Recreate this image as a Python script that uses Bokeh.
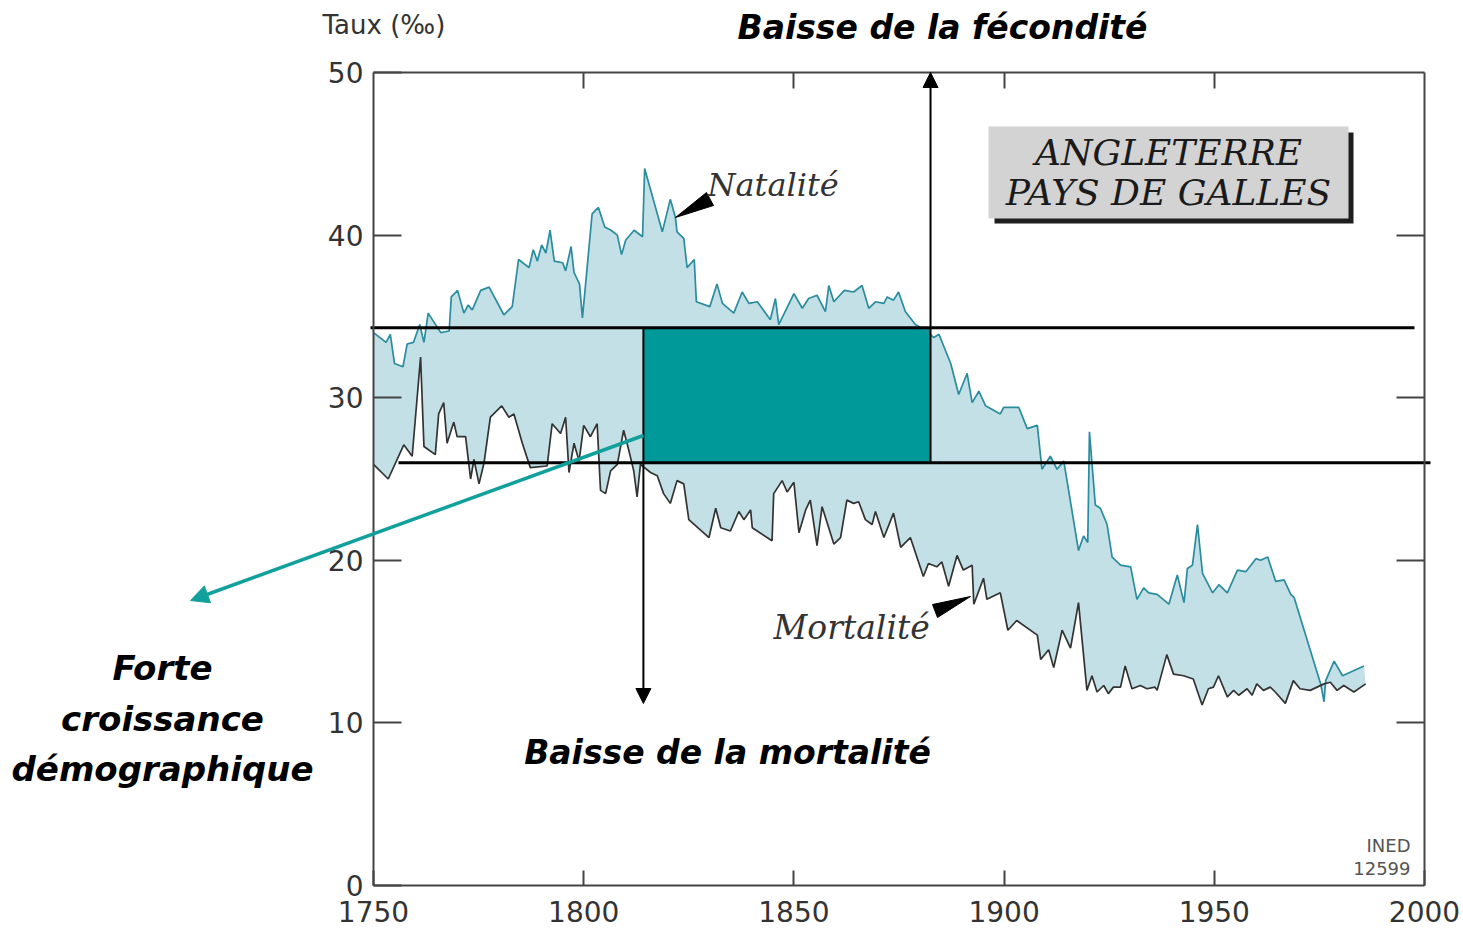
from bokeh.plotting import figure
from bokeh.models import Range1d, LinearAxis, FixedTicker, Label, Arrow, NormalHead
from bokeh.embed import file_html
from bokeh.resources import INLINE

# ---------------- data ----------------
birth_years = [1750, 1753, 1754, 1755, 1757, 1758, 1759.5, 1761, 1762, 1763, 1765, 1766, 1768, 1768.5,
               1770, 1771.5, 1772.5, 1773.5, 1775.5, 1777.5, 1781, 1783, 1784.5, 1787, 1788, 1789, 1790,
               1791, 1792, 1793, 1795, 1795.7, 1797, 1797.7, 1799, 1799.7, 1802, 1803.5, 1805, 1806.5,
               1808, 1809, 1810, 1812, 1814, 1814.5, 1818.7, 1820.6, 1821.8, 1822.2, 1823.8, 1824.6,
               1826.3, 1826.8, 1830, 1831.7, 1833, 1835.7, 1837.7, 1839.3, 1841.3, 1844.4, 1845.6,
               1846.4, 1850, 1852, 1853.5, 1855.5, 1857.5, 1858.3, 1859.5, 1862, 1864.2, 1866.2,
               1867.8, 1869.4, 1871.4, 1872.2, 1873.7, 1874.9, 1876.5, 1878.9, 1881, 1883.3, 1884.5,
               1887.3, 1889.2, 1891.2, 1892.4, 1894, 1895.6, 1899.1, 1899.9, 1903.5, 1905.5, 1907.9,
               1909, 1911, 1912.6, 1914.2, 1917.7, 1918.9, 1919.9, 1920.3, 1921.7, 1922.9, 1924.5,
               1925.7, 1927.7, 1930.1, 1931.6, 1933.2, 1934.4, 1936.4, 1939.2, 1941.2, 1942.8, 1943.6,
               1944.8, 1946, 1947.2, 1949.6, 1951.1, 1953.1, 1955.5, 1957.5, 1959.9, 1961, 1962.7,
               1964.6, 1966.6, 1968.2, 1969, 1975.3, 1976.1, 1976.5, 1978.5, 1980.5, 1985.6]
birth_rates = [34.0, 33.4, 33.9, 32.1, 31.9, 33.3, 33.4, 34.5, 33.4, 35.2, 34.4, 34.0, 34.1, 36.2,
               36.6, 35.2, 35.7, 35.4, 36.6, 36.8, 35.1, 35.6, 38.5, 38.0, 39.1, 38.4, 39.4,
               38.9, 40.3, 38.4, 38.3, 37.8, 39.3, 37.7, 37.0, 34.9, 41.3, 41.7, 40.5, 40.3,
               40.0, 38.8, 39.7, 40.3, 39.9, 44.1, 40.2, 42.2, 41.1, 40.2, 39.8, 38.0,
               38.5, 35.9, 35.6, 37.0, 35.8, 35.2, 36.5, 35.8, 35.9, 34.8, 36.1,
               34.5, 36.4, 35.5, 36.1, 36.3, 35.3, 36.9, 35.9, 36.6, 36.5, 36.9,
               35.5, 35.9, 35.8, 36.2, 36.0, 36.5, 35.3, 34.5, 34.2, 33.7, 33.9,
               32.1, 30.2, 31.5, 29.7, 30.4, 29.5, 29.0, 29.4, 29.4, 28.1, 28.3,
               25.6, 26.4, 25.6, 26.1, 20.6, 21.5, 21.1, 27.9, 23.4, 23.2, 22.2,
               20.2, 19.7, 19.6, 17.6, 18.3, 18.0, 17.9, 17.3, 19.1, 17.4, 19.5,
               19.7, 22.2, 19.2, 18.0, 18.5, 18.0, 19.4, 19.3, 20.1, 20.0, 20.2,
               18.7, 18.8, 17.9, 17.7, 12.4, 11.3, 12.6, 13.8, 12.9, 13.5]

death_years = [1750, 1753.5, 1757.2, 1759.2, 1761.2, 1762, 1764.7, 1765.5, 1766.7, 1767.5, 1769.1,
               1769.9, 1771.9, 1773.1, 1773.9, 1775.1, 1776.3, 1777.8, 1780.5, 1782.2, 1783.4,
               1785.4, 1787.3, 1791.3, 1792.5, 1794.5, 1795.7, 1796.5, 1797.7, 1798.9, 1800,
               1801.6, 1803.2, 1804, 1805.2, 1806.4, 1808, 1809.5, 1810.7, 1811.9, 1812.7, 1813.5,
               1815.9, 1817.5, 1819, 1820.6, 1822.2, 1823.8, 1825, 1829.8, 1831.4, 1832.6, 1834.9,
               1836.9, 1838.1, 1839.7, 1840.1, 1844.8, 1845.2, 1847.2, 1848.4, 1850, 1851.2,
               1852.8, 1853.9, 1855.5, 1856.7, 1859.5, 1861.1, 1862.6, 1864.2, 1865.4, 1867,
               1868.6, 1869.4, 1871.4, 1873.7, 1875.4, 1877.7, 1880.8, 1882, 1884, 1885.2, 1886.8,
               1888.8, 1890.3, 1892.4, 1892.8, 1895.1, 1895.9, 1899.1, 1900.9, 1903, 1907.9,
               1908.7, 1910.6, 1911.8, 1913.8, 1915.8, 1917.7, 1919.7, 1920.9, 1922.1, 1923.7,
               1924.8, 1926, 1927.7, 1928.8, 1930.4, 1932.4, 1934, 1935.9, 1936.4, 1938.7, 1940.3,
               1942.7, 1945, 1947.1, 1948.6, 1949.8, 1951, 1953.1, 1954.6, 1955.8, 1957.8, 1959,
               1960.1, 1961.7, 1963.3, 1964.5, 1966.9, 1968.8, 1970.4, 1972.8, 1976.1, 1977.6,
               1979.2, 1980.8, 1983.2, 1986]
death_rates = [25.9, 25.0, 27.1, 26.4, 32.5, 27.0, 26.5, 29.0, 29.7, 27.2, 28.5,
               27.6, 27.6, 25.0, 26.2, 24.7, 26.0, 28.8, 29.5, 28.8, 29.0,
               27.2, 25.7, 25.8, 28.4, 27.8, 28.8, 25.4, 27.2, 26.1, 28.3,
               27.6, 28.4, 24.3, 24.1, 25.5, 25.9, 28.0, 26.8, 25.5, 23.9, 25.9,
               25.4, 25.2, 24.1, 23.5, 24.9, 24.7, 22.5, 21.4, 23.2, 22.0, 21.8,
               23.0, 22.5, 23.1, 22.0, 21.2, 24.1, 24.9, 24.2, 24.8, 21.7,
               23.1, 23.7, 20.9, 23.3, 21.0, 21.4, 23.7, 23.5, 23.6, 22.5,
               22.2, 23.0, 21.4, 22.9, 20.8, 21.4, 19.0, 19.8, 19.6, 19.9, 18.4,
               20.3, 19.4, 19.7, 17.3, 18.9, 17.6, 18.0, 15.7, 16.3, 15.4,
               13.9, 14.5, 13.4, 15.7, 14.6, 17.4, 12.0, 12.9, 11.9, 12.3,
               11.8, 12.2, 12.2, 13.5, 12.1, 12.3, 12.1, 12.2, 12.0, 14.2, 13.0,
               12.9, 12.7, 11.1, 12.1, 12.2, 12.9, 11.6, 12.0, 11.7, 12.1, 11.7,
               12.4, 12.0, 12.2, 11.9, 11.2, 12.6, 12.1, 12.0, 12.4, 12.5,
               12.0, 12.3, 11.9, 12.4]

fertility_level = 34.3      # upper horizontal reference line
mortality_level = 26.0      # lower horizontal reference line
transition_start = 1814.2   # mortality falls
transition_end = 1882.5     # fertility falls

x_ticks = [1750, 1800, 1850, 1900, 1950, 2000]
y_ticks = [0, 10, 20, 30, 40, 50]

# ---------------- layout: the plotting frame covers the whole canvas ----------------
W, H = 1460, 928
BOX_L, BOX_R, BOX_T, BOX_B = 373, 1424, 72, 885       # pixel box of the axes rectangle
PX_PER_YEAR = (BOX_R - BOX_L) / (x_ticks[-1] - x_ticks[0])
PX_PER_UNIT = (BOX_B - BOX_T) / (y_ticks[-1] - y_ticks[0])

def X(px):   # canvas pixel -> data x (for annotation placement)
    return x_ticks[0] + (px - BOX_L) / PX_PER_YEAR

def Y(py):   # canvas pixel -> data y (for annotation placement)
    return y_ticks[0] + (BOX_B - py) / PX_PER_UNIT

FILL = "#c2e0e5"
BIRTH_LINE = "#2a8c9e"
DEATH_LINE = "#333333"
TEAL = "#009999"
ARROW_TEAL = "#12a09c"
AXIS = "#444444"
COMIC = "DejaVu Sans"

p = figure(width=W, height=H, x_range=Range1d(X(0), X(W)), y_range=Range1d(Y(H), Y(0)),
           output_backend="svg", toolbar_location=None,
           x_axis_location=None, y_axis_location=None,
           min_border=0, min_border_left=0, min_border_right=0, min_border_top=0, min_border_bottom=0)
p.outline_line_color = None
p.background_fill_color = "white"
p.border_fill_color = "white"
for g in p.grid:
    g.visible = False

def make_axis(ticks, loc, bounds, tick_in, show_labels, standoff=10):
    ax = LinearAxis(ticker=FixedTicker(ticks=ticks), fixed_location=loc, bounds=bounds)
    ax.axis_line_color = AXIS
    ax.axis_line_width = 2
    ax.major_tick_line_color = AXIS
    ax.major_tick_line_width = 2
    ax.major_tick_in = tick_in
    ax.major_tick_out = 0
    ax.minor_tick_line_color = None
    ax.major_label_text_font = "DejaVu Sans"
    ax.major_label_text_font_size = "28px"
    ax.major_label_standoff = standoff
    ax.major_label_text_color = "#333333" if show_labels else None
    return ax

p.add_layout(make_axis(y_ticks, x_ticks[0], (y_ticks[0], y_ticks[-1]), 28, True, 10), "left")
p.add_layout(make_axis(y_ticks[1:-1], x_ticks[-1], (y_ticks[0], y_ticks[-1]), 28, False), "right")
p.add_layout(make_axis(x_ticks, y_ticks[0], (x_ticks[0], x_ticks[-1]), 15, True, 15), "below")
p.add_layout(make_axis(x_ticks[1:-1], y_ticks[-1], (x_ticks[0], x_ticks[-1]), 16, False), "above")

# filled band between birth and death rates
band_x = birth_years + death_years[::-1]
band_y = birth_rates + death_rates[::-1]
p.patch(band_x, band_y, fill_color=FILL, line_color=None)

# teal rectangle (demographic transition gap)
p.quad(left=[transition_start], right=[transition_end], bottom=[mortality_level], top=[fertility_level],
       fill_color=TEAL, line_color=None)

p.line(birth_years, birth_rates, line_color=BIRTH_LINE, line_width=1.7)
p.line(death_years, death_rates, line_color=DEATH_LINE, line_width=1.7)

# horizontal reference lines
p.segment(x0=[X(370)], y0=[fertility_level], x1=[X(1414)], y1=[fertility_level], line_color="black", line_width=3)
p.segment(x0=[X(398)], y0=[mortality_level], x1=[X(1430)], y1=[mortality_level], line_color="black", line_width=3)

# vertical arrows
p.add_layout(Arrow(x_start=transition_end, y_start=mortality_level, x_end=transition_end, y_end=Y(72),
                   line_color="black", line_width=2,
                   end=NormalHead(size=15, fill_color="black", line_color="black")))
p.add_layout(Arrow(x_start=transition_start, y_start=fertility_level, x_end=transition_start, y_end=Y(703),
                   line_color="black", line_width=2,
                   end=NormalHead(size=15, fill_color="black", line_color="black")))

# teal arrow towards the left caption
p.add_layout(Arrow(x_start=transition_start, y_start=Y(435), x_end=X(190), y_end=Y(600),
                   line_color=ARROW_TEAL, line_width=3.5,
                   end=NormalHead(size=18, fill_color=ARROW_TEAL, line_color=ARROW_TEAL)))

# wedge pointers for the curve labels
p.patch([X(675), X(713), X(706)], [Y(217), Y(205), Y(192)], fill_color="black", line_color="black")
p.patch([X(970), X(937), X(932)], [Y(596), Y(617), Y(604)], fill_color="black", line_color="black")

# title box with shadow
p.quad(left=[X(994)], right=[X(1353)], bottom=[Y(223)], top=[Y(132)], fill_color="#1e1e1e", line_color=None)
p.quad(left=[X(988)], right=[X(1348)], bottom=[Y(218)], top=[Y(126)], fill_color="#d3d3d3", line_color=None)

def label(px, py, text, font, size, style="normal", color="#222222", align="left", baseline="middle"):
    p.add_layout(Label(x=X(px), y=Y(py), text=text, text_font=font, text_font_size=size,
                       text_font_style=style, text_color=color, text_align=align,
                       text_baseline=baseline))

label(1168, 152, "ANGLETERRE", "DejaVu Serif", "36px", "italic", "#1a1a1a", "center")
label(1168, 192, "PAYS DE GALLES", "DejaVu Serif", "36px", "italic", "#1a1a1a", "center")

label(707, 184, "Natalité", "DejaVu Serif", "32px", "italic", "#333333")
label(773, 627, "Mortalité", "DejaVu Serif", "33px", "italic", "#333333")

label(322, 24, "Taux (‰)", "DejaVu Sans", "26px", "normal", "#333333")
label(1410, 845, "INED", "DejaVu Sans", "18px", "normal", "#555555", "right")
label(1410, 868, "12599", "DejaVu Sans", "18px", "normal", "#555555", "right")

label(942, 27, "Baisse de la fécondité", COMIC, "33px", "bold italic", "black", "center")
label(727, 752, "Baisse de la mortalité", COMIC, "33px", "bold italic", "black", "center")
label(162, 667, "Forte", COMIC, "34px", "bold italic", "black", "center")
label(162, 718, "croissance", COMIC, "34px", "bold italic", "black", "center")
label(162, 768, "démographique", COMIC, "34px", "bold italic", "black", "center")

open("out.html", "w").write(file_html(p, INLINE))
